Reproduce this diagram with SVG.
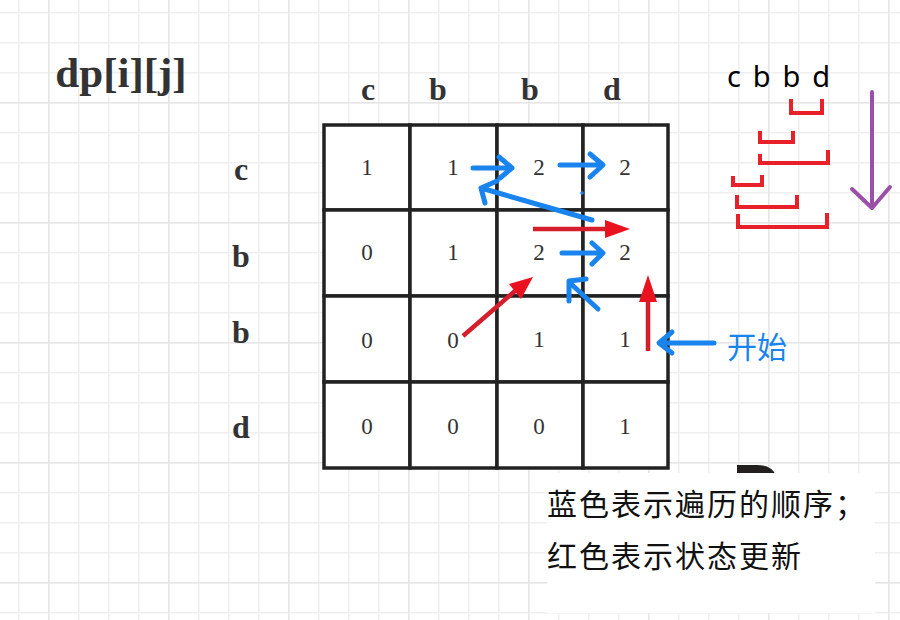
<svg xmlns="http://www.w3.org/2000/svg" width="900" height="620" viewBox="0 0 900 620">
<defs>
<pattern id="minor" x="18" y="12" width="30" height="30" patternUnits="userSpaceOnUse">
<rect x="0" y="0" width="30" height="1.5" fill="#efefef"/>
<rect x="0" y="0" width="1.5" height="30" fill="#efefef"/>
</pattern>
<pattern id="major" x="48" y="102" width="120" height="120" patternUnits="userSpaceOnUse">
<rect x="0" y="0" width="120" height="1.5" fill="#e6e6e6"/>
<rect x="0" y="0" width="1.5" height="120" fill="#e6e6e6"/>
</pattern>
<style>
.head{font-family:"Liberation Serif","Times New Roman",serif;font-weight:bold;fill:#333;text-anchor:middle}
.num{font-family:"Liberation Serif","Times New Roman",serif;font-size:23px;fill:#333;text-anchor:middle}
.cell{fill:#fff;stroke:#222;stroke-width:3.5}
.blue{fill:none;stroke:#1a84ee;stroke-width:5;stroke-linecap:round;stroke-linejoin:round}
.redl{fill:none;stroke:#d41e2c;stroke-width:4.5}
.redh{fill:#ea121e;stroke:none}
.brk{fill:none;stroke:#e8202a;stroke-width:4;stroke-linejoin:miter}
.cjk{font-family:"Noto Sans CJK SC","Noto Sans",sans-serif;font-size:30px}
</style>
</defs>
<rect width="900" height="620" fill="#fff"/>
<rect width="900" height="620" fill="url(#minor)"/>
<rect width="900" height="620" fill="url(#major)"/>

<g id="title"><text class="head" x="121" y="87" font-size="43">dp[i][j]</text></g>

<g id="col-labels">
<text class="head" x="368" y="100" font-size="32">c</text>
<text class="head" x="438" y="100" font-size="32">b</text>
<text class="head" x="530" y="100" font-size="32">b</text>
<text class="head" x="612" y="100" font-size="32">d</text>
</g>
<g id="row-labels">
<text class="head" x="241" y="180" font-size="32">c</text>
<text class="head" x="241" y="267" font-size="32">b</text>
<text class="head" x="241" y="343" font-size="32">b</text>
<text class="head" x="241" y="438" font-size="32">d</text>
</g>

<g id="table">
<rect class="cell" x="324" y="125" width="86" height="85"/>
<rect class="cell" x="410" y="125" width="87" height="85"/>
<rect class="cell" x="497" y="125" width="86" height="85"/>
<rect class="cell" x="583" y="125" width="85" height="85"/>
<rect class="cell" x="324" y="210" width="86" height="86"/>
<rect class="cell" x="410" y="210" width="87" height="86"/>
<rect class="cell" x="497" y="210" width="86" height="86"/>
<rect class="cell" x="583" y="210" width="85" height="86"/>
<rect class="cell" x="324" y="296" width="86" height="86"/>
<rect class="cell" x="410" y="296" width="87" height="86"/>
<rect class="cell" x="497" y="296" width="86" height="86"/>
<rect class="cell" x="583" y="296" width="85" height="86"/>
<rect class="cell" x="324" y="382" width="86" height="86"/>
<rect class="cell" x="410" y="382" width="87" height="86"/>
<rect class="cell" x="497" y="382" width="86" height="86"/>
<rect class="cell" x="583" y="382" width="85" height="86"/>
<g id="values">
<text class="num" x="367" y="175">1</text><text class="num" x="453" y="175">1</text><text class="num" x="539" y="175">2</text><text class="num" x="625" y="175">2</text>
<text class="num" x="367" y="260">0</text><text class="num" x="453" y="260">1</text><text class="num" x="539" y="260">2</text><text class="num" x="625" y="260">2</text>
<text class="num" x="367" y="348">0</text><text class="num" x="453" y="348">0</text><text class="num" x="539" y="347">1</text><text class="num" x="625" y="347">1</text>
<text class="num" x="367" y="434">0</text><text class="num" x="453" y="434">0</text><text class="num" x="539" y="434">0</text><text class="num" x="625" y="434">1</text>
</g>
</g>

<g id="connectors">
<path class="blue" d="M473,168 H510 M499,157 L512,168 L500,178"/>
<path class="blue" d="M560,165 H602 M590,154 L603,165 L590,177"/>
<path class="blue" d="M592,220 L481,188 M497,181 L481,188 L485,203"/>
<circle cx="582" cy="193" r="1.8" fill="#1a84ee"/>
<path class="blue" d="M562,253 H602 M592,243 L603,253 L592,264"/>
<path class="blue" d="M598,309 L569,282 M586,279 L569,281 L569,301"/>
<path class="blue" d="M714,343 H660 M672,332 L659,343 L672,353"/>
<path class="redl" d="M533,229 H606"/>
<polygon class="redh" points="605,220 630,229 605,238"/>
<path class="redl" d="M463,336 L515,291"/>
<polygon class="redh" points="509,284 533,277 521,299"/>
<path class="redl" d="M648,351 V300"/>
<polygon class="redh" points="639,302 648,275 657,302"/>
</g>

<g id="start-label"><text class="cjk" x="727" y="358" fill="#1a84ee">开始</text></g>

<g id="sequence">
<text x="727" y="87" font-family="'Noto Sans','DejaVu Sans',sans-serif" font-size="29" fill="#000" textLength="103" lengthAdjust="spacing">c b b d</text>
<path class="brk" d="M791,99 V113 H822 V99"/>
<path class="brk" d="M760,131 V142 H793 V131"/>
<path class="brk" d="M760,154 V163 H828 V150"/>
<path class="brk" d="M733,176 V185 H762 V175"/>
<path class="brk" d="M737,195 V207 H797 V195"/>
<path class="brk" d="M738,214 V227 H827 V213"/>
<path d="M872,92 V207 M852,189 L872,208 L890,187" fill="none" stroke="#9b4fa8" stroke-width="4" stroke-linecap="round" stroke-linejoin="round"/>
</g>

<path d="M737,476 V465 H757 Q772,465 776,476 Z" fill="#231f1f"/>
<g id="legend">
<rect x="547" y="473" width="328" height="140" fill="#fff"/>
<text class="cjk" x="547" y="515" fill="#111" letter-spacing="2">蓝色表示遍历的顺序；</text>
<text class="cjk" x="547" y="567" fill="#111" letter-spacing="2">红色表示状态更新</text>
</g>
</svg>
